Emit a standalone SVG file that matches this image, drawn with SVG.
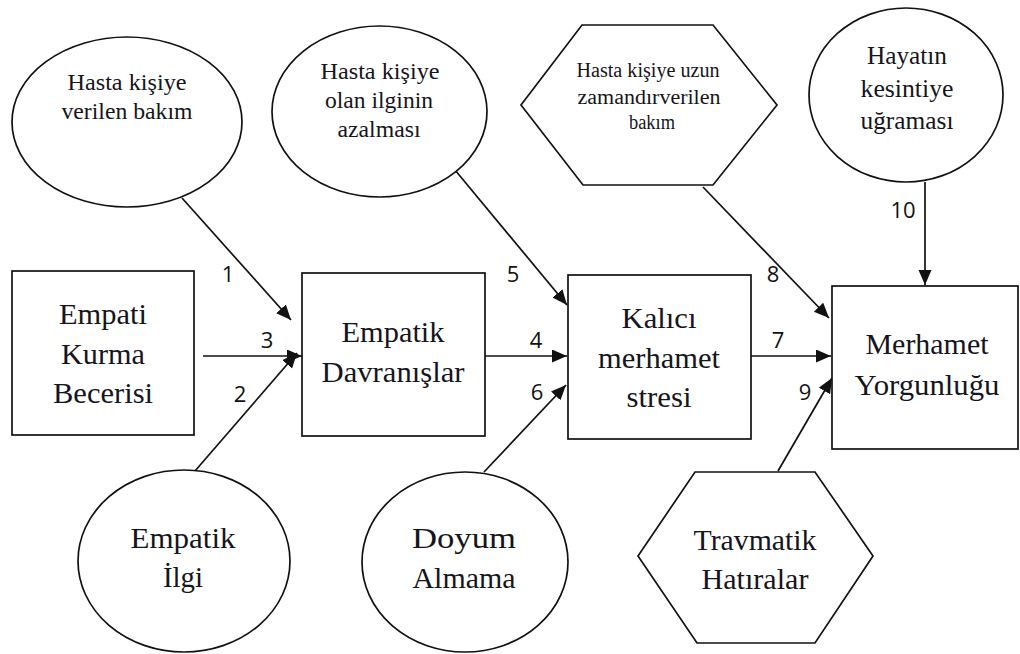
<svg xmlns="http://www.w3.org/2000/svg" width="1020" height="654" viewBox="0 0 1020 654">
<style>
.shape{fill:#fff;stroke:#111;stroke-width:1.7}
.conn{stroke:#111;stroke-width:1.7;fill:none;marker-end:url(#ah)}
</style>
<defs>
<marker id="ah" markerUnits="userSpaceOnUse" markerWidth="16" markerHeight="14" refX="15" refY="6.5" orient="auto">
<path d="M0,0 L15,6.5 L0,13 z" fill="#111"/>
</marker>
</defs>
<rect width="1020" height="654" fill="#fff"/>

<g id="connectors">
<line class="conn" x1="182" y1="198" x2="291" y2="320"/>
<line class="conn" x1="195" y1="471" x2="297" y2="353"/>
<line class="conn" x1="203" y1="356" x2="302" y2="356"/>
<line class="conn" x1="485" y1="356" x2="567" y2="356"/>
<line class="conn" x1="455" y1="170" x2="567" y2="305"/>
<line class="conn" x1="484" y1="472" x2="566" y2="385"/>
<line class="conn" x1="751" y1="356" x2="831" y2="356"/>
<line class="conn" x1="703" y1="187" x2="829" y2="318"/>
<line class="conn" x1="778" y1="471" x2="832" y2="378"/>
<line class="conn" x1="925" y1="182" x2="925" y2="285"/>
<g font-family="Open Sans, Noto Sans, sans-serif" font-size="22" fill="#111" text-anchor="middle">
<text x="228" y="282">1</text>
<text x="240" y="402">2</text>
<text x="267" y="348">3</text>
<text x="536" y="348">4</text>
<text x="513" y="282">5</text>
<text x="537" y="400">6</text>
<text x="778" y="348">7</text>
<text x="773" y="282">8</text>
<text x="805" y="400">9</text>
<text x="903" y="218">10</text>
</g>
</g>

<g font-family="Liberation Serif, DejaVu Serif, Noto Serif, serif" fill="#151520" text-anchor="middle" lengthAdjust="spacingAndGlyphs">
<g id="n-verilen-bakim" font-size="24">
<ellipse class="shape" cx="127" cy="122" rx="115" ry="85"/>
<text x="127" y="90" textLength="119" lengthAdjust="spacingAndGlyphs">Hasta kişiye</text>
<text x="127" y="119" textLength="131" lengthAdjust="spacingAndGlyphs">verilen bakım</text>
</g>

<g id="n-ilginin-azalmasi" font-size="24">
<ellipse class="shape" cx="379.5" cy="111.5" rx="107.5" ry="85.5"/>
<text x="380" y="79" textLength="119" lengthAdjust="spacingAndGlyphs">Hasta kişiye</text>
<text x="379" y="108" textLength="108" lengthAdjust="spacingAndGlyphs">olan ilginin</text>
<text x="379" y="137" textLength="83" lengthAdjust="spacingAndGlyphs">azalması</text>
</g>

<g id="n-uzun-zaman" font-size="20">
<polygon class="shape" points="582,25 713,25 777,105 713,185 583,185 521,105"/>
<text x="648" y="77" textLength="143" lengthAdjust="spacingAndGlyphs">Hasta kişiye uzun</text>
<text x="649" y="104" textLength="143" lengthAdjust="spacingAndGlyphs">zamandırverilen</text>
<text x="652" y="129" textLength="46" lengthAdjust="spacingAndGlyphs">bakım</text>
</g>

<g id="n-hayatin" font-size="25">
<ellipse class="shape" cx="906" cy="95" rx="97" ry="87"/>
<text x="907" y="64" textLength="80" lengthAdjust="spacingAndGlyphs">Hayatın</text>
<text x="907" y="97" textLength="93" lengthAdjust="spacingAndGlyphs">kesintiye</text>
<text x="907" y="129" textLength="93" lengthAdjust="spacingAndGlyphs">uğraması</text>
</g>

<g id="n-empati-kurma" font-size="30">
<rect class="shape" x="12" y="271" width="182" height="164"/>
<text x="103" y="324" textLength="88" lengthAdjust="spacingAndGlyphs">Empati</text>
<text x="103" y="364" textLength="84" lengthAdjust="spacingAndGlyphs">Kurma</text>
<text x="103" y="403" textLength="100" lengthAdjust="spacingAndGlyphs">Becerisi</text>
</g>

<g id="n-empatik-davranislar" font-size="30">
<rect class="shape" x="302" y="273" width="183" height="163"/>
<text x="393" y="342" textLength="103" lengthAdjust="spacingAndGlyphs">Empatik</text>
<text x="393" y="382" textLength="143" lengthAdjust="spacingAndGlyphs">Davranışlar</text>
</g>

<g id="n-kalici-stres" font-size="30">
<rect class="shape" x="568" y="275" width="183" height="164"/>
<text x="659" y="328" textLength="75" lengthAdjust="spacingAndGlyphs">Kalıcı</text>
<text x="659" y="368" textLength="122" lengthAdjust="spacingAndGlyphs">merhamet</text>
<text x="659" y="407" textLength="65" lengthAdjust="spacingAndGlyphs">stresi</text>
</g>

<g id="n-merhamet-yorgunlugu" font-size="30">
<rect class="shape" x="832" y="286" width="186" height="163"/>
<text x="927" y="354" textLength="123" lengthAdjust="spacingAndGlyphs">Merhamet</text>
<text x="927" y="395" textLength="145" lengthAdjust="spacingAndGlyphs">Yorgunluğu</text>
</g>

<g id="n-empatik-ilgi" font-size="30">
<ellipse class="shape" cx="184" cy="561" rx="106" ry="91"/>
<text x="183" y="548" textLength="105" lengthAdjust="spacingAndGlyphs">Empatik</text>
<text x="183" y="587" textLength="40" lengthAdjust="spacingAndGlyphs">İlgi</text>
</g>

<g id="n-doyum-almama" font-size="30">
<ellipse class="shape" cx="465" cy="562" rx="103" ry="90"/>
<text x="464" y="548" textLength="104" lengthAdjust="spacingAndGlyphs">Doyum</text>
<text x="464" y="588" textLength="103" lengthAdjust="spacingAndGlyphs">Almama</text>
</g>

<g id="n-travmatik" font-size="30">
<polygon class="shape" points="695,472 815,472 873,556 815,643 697,643 638,556"/>
<text x="755" y="550" textLength="123" lengthAdjust="spacingAndGlyphs">Travmatik</text>
<text x="755" y="589" textLength="107" lengthAdjust="spacingAndGlyphs">Hatıralar</text>
</g>
</g>
</svg>
